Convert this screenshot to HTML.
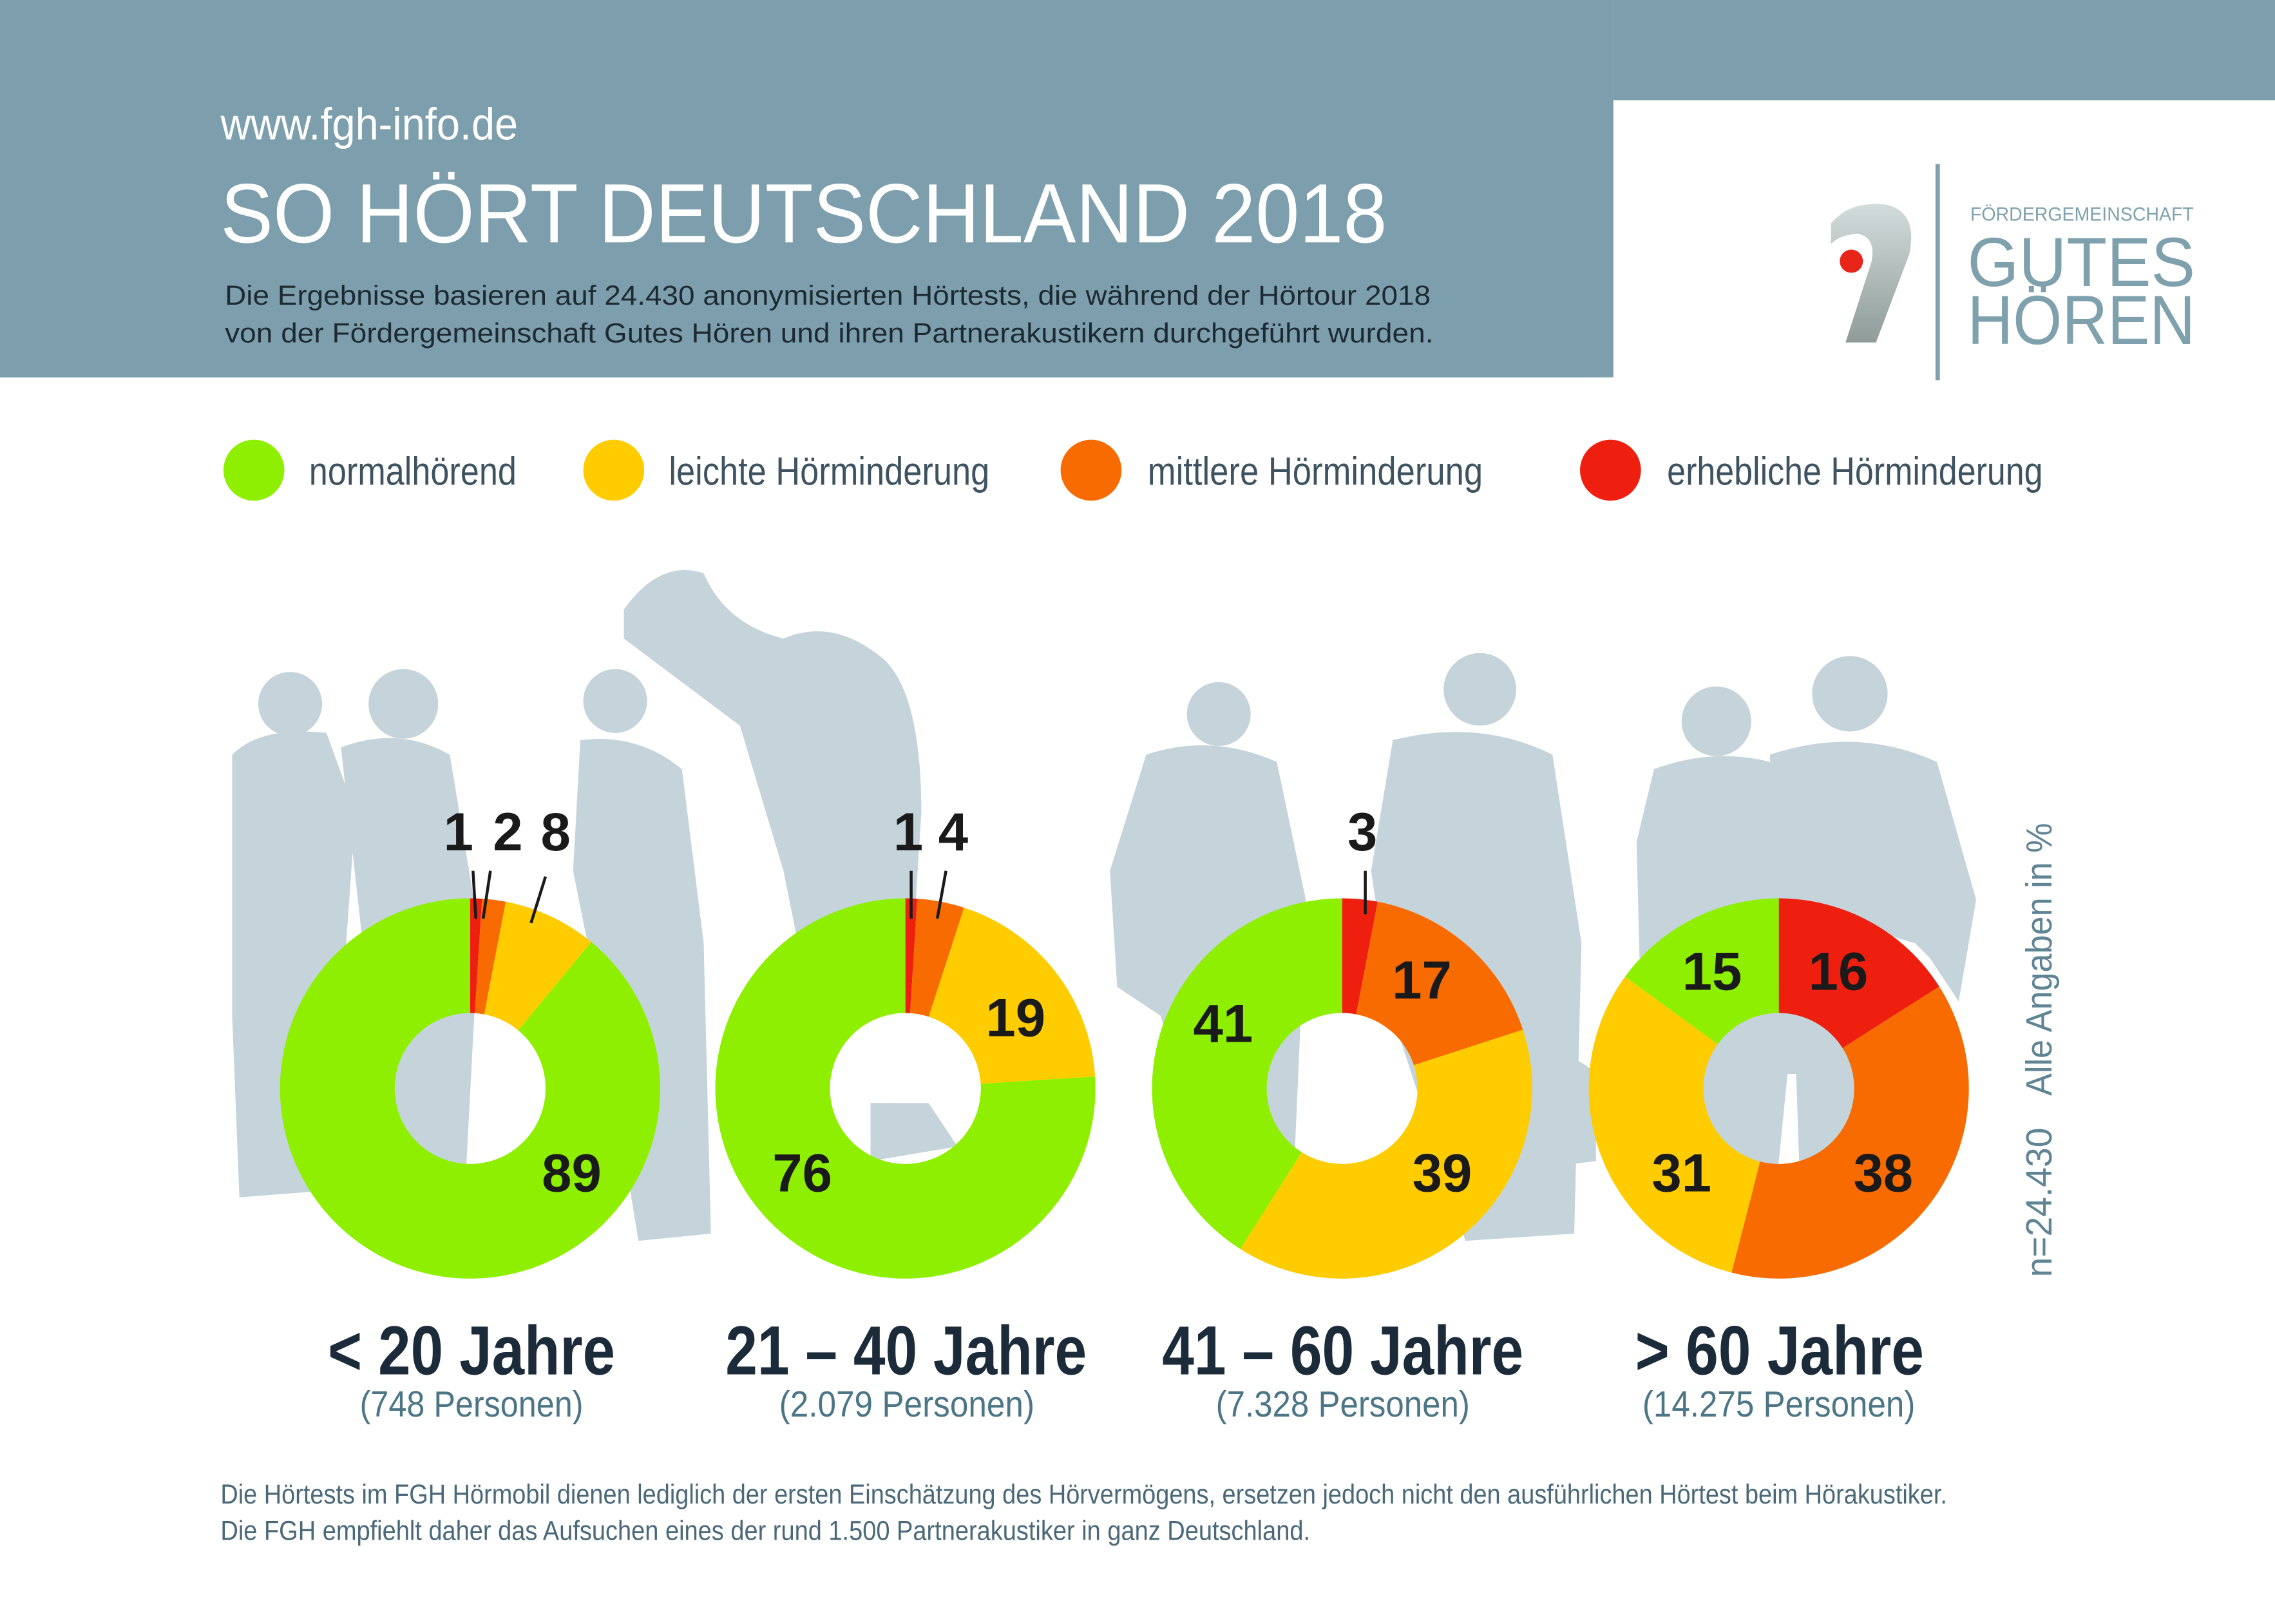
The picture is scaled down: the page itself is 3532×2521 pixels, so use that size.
<!DOCTYPE html>
<html><head><meta charset="utf-8"><style>
html,body{margin:0;padding:0;background:#fff;}
svg{display:block;}
text{font-family:"Liberation Sans",sans-serif;}
</style></head><body>
<svg id="s" width="3532" height="2521" viewBox="0 0 1568 1119" preserveAspectRatio="none" xmlns="http://www.w3.org/2000/svg">
<rect x="0" y="0" width="1568" height="1119" fill="#fff"/>
<rect x="0" y="0" width="1112" height="260" fill="#7d9fad"/>
<rect x="1112" y="0" width="456" height="69" fill="#7d9fad"/>
<text x="152" y="96" font-size="31" fill="#fff" textLength="205" lengthAdjust="spacingAndGlyphs">www.fgh-info.de</text>
<text x="152" y="167" font-size="58" fill="#fff" textLength="804" lengthAdjust="spacingAndGlyphs">SO HÖRT DEUTSCHLAND 2018</text>
<text x="155" y="210" font-size="19" fill="#1e2a33" textLength="831" lengthAdjust="spacingAndGlyphs">Die Ergebnisse basieren auf 24.430 anonymisierten Hörtests, die während der Hörtour 2018</text>
<text x="155" y="236" font-size="19" fill="#1e2a33" textLength="833" lengthAdjust="spacingAndGlyphs">von der Fördergemeinschaft Gutes Hören und ihren Partnerakustikern durchgeführt wurden.</text>
<defs><linearGradient id="lg" x1="0" y1="0" x2="0" y2="1"><stop offset="0" stop-color="#d3dcdc"/><stop offset="1" stop-color="#8f9c9a"/></linearGradient></defs>
<path d="M1262 154 Q1275 138 1300 141 Q1322 146 1316 175 L1293 236 L1272 236 L1290 180 Q1293 163 1280 161 Q1268 162 1262 168 Z" fill="url(#lg)"/>
<circle cx="1276" cy="180" r="8" fill="#e8251a"/>
<rect x="1334" y="113" width="3" height="149" fill="#7fa1ad"/>
<text x="1358" y="152" font-size="13" fill="#7fa1ad" textLength="154" lengthAdjust="spacingAndGlyphs">FÖRDERGEMEINSCHAFT</text>
<text x="1356" y="197" font-size="48" fill="#7fa1ad" textLength="157" lengthAdjust="spacingAndGlyphs">GUTES</text>
<text x="1356" y="237" font-size="48" fill="#7fa1ad" textLength="157" lengthAdjust="spacingAndGlyphs">HÖREN</text>
<circle cx="175" cy="324" r="21" fill="#8ef000"/>
<circle cx="423" cy="324" r="21" fill="#ffcc00"/>
<circle cx="752" cy="324" r="21" fill="#f76b00"/>
<circle cx="1110" cy="324" r="21" fill="#ee1f0f"/>
<g font-size="27" fill="#3e5260">
<text x="213" y="334" textLength="143" lengthAdjust="spacingAndGlyphs">normalhörend</text>
<text x="461" y="334" textLength="221" lengthAdjust="spacingAndGlyphs">leichte Hörminderung</text>
<text x="791" y="334" textLength="231" lengthAdjust="spacingAndGlyphs">mittlere Hörminderung</text>
<text x="1149" y="334" textLength="259" lengthAdjust="spacingAndGlyphs">erhebliche Hörminderung</text>
</g>
<g fill="#c4d4da">
<circle cx="200" cy="485" r="22"/><path d="M160 520 Q180 500 225 505 L245 560 L235 700 L230 820 L165 825 L160 700 Z"/>
<circle cx="278" cy="485" r="24"/><path d="M235 515 Q275 500 310 520 L330 640 L320 830 L270 830 Z"/>
<circle cx="424" cy="483" r="22"/><path d="M400 510 Q440 505 470 530 L485 650 L490 850 L440 855 L415 700 L395 600 Z"/>
<path d="M430 420 Q455 385 485 395 Q500 430 540 440 Q575 425 610 455 Q635 480 635 560 L630 640 L600 700 L560 700 L540 600 L510 500 Q470 470 430 440 Z"/>
<path d="M600 760 L640 760 L660 790 L600 800 Z"/>
<circle cx="840" cy="492" r="22"/><path d="M790 520 Q835 505 880 525 L900 620 L890 850 L840 850 L800 700 L770 680 L765 600 Z"/>
<circle cx="1020" cy="475" r="25"/><path d="M960 510 Q1020 495 1070 520 L1090 650 L1085 850 L1010 855 L960 700 L945 600 Z"/>
<path d="M1050 730 Q1080 720 1100 740 L1100 800 L1060 805 Z"/>
<circle cx="1183" cy="497" r="24"/><path d="M1140 530 Q1180 515 1220 525 L1225 650 L1130 660 L1128 580 Z"/>
<circle cx="1275" cy="478" r="26"/><path d="M1220 520 Q1280 500 1335 525 L1362 620 L1350 690 L1330 660 L1320 650 L1220 620 Z"/>
<path d="M1160 680 L1290 680 L1290 800 L1240 800 L1238 740 L1232 740 L1225 810 L1160 810 Z"/>
</g>
<g id="donuts"></g>
<g stroke="#1a1a1a" stroke-width="2">
<line x1="326" y1="600" x2="328" y2="633"/><line x1="338" y1="600" x2="333" y2="633"/><line x1="376" y1="604" x2="366" y2="636"/>
<line x1="628" y1="600" x2="628" y2="633"/><line x1="652" y1="600" x2="646" y2="633"/>
<line x1="941" y1="600" x2="941" y2="630"/>
</g>
<g font-size="37" font-weight="bold" fill="#1a1a1a" text-anchor="middle">
<text x="316" y="586">1</text><text x="350" y="586">2</text><text x="383" y="586">8</text>
<text x="394" y="821">89</text>
<text x="626" y="586">1</text><text x="657" y="586">4</text>
<text x="700" y="714">19</text><text x="553" y="821">76</text>
<text x="939" y="586">3</text>
<text x="980" y="688">17</text><text x="843" y="718">41</text><text x="994" y="821">39</text>
<text x="1180" y="682">15</text><text x="1267" y="682">16</text><text x="1159" y="821">31</text><text x="1298" y="821">38</text>
</g>
<g font-size="48" font-weight="bold" fill="#1b2b3a">
<text x="226" y="947" textLength="198" lengthAdjust="spacingAndGlyphs">&lt; 20 Jahre</text>
<text x="500" y="947" textLength="249" lengthAdjust="spacingAndGlyphs">21 – 40 Jahre</text>
<text x="801" y="947" textLength="249" lengthAdjust="spacingAndGlyphs">41 – 60 Jahre</text>
<text x="1127" y="947" textLength="199" lengthAdjust="spacingAndGlyphs">&gt; 60 Jahre</text>
</g>
<g font-size="25" fill="#4c7585">
<text x="248" y="976" textLength="154" lengthAdjust="spacingAndGlyphs">(748 Personen)</text>
<text x="537" y="976" textLength="176" lengthAdjust="spacingAndGlyphs">(2.079 Personen)</text>
<text x="838" y="976" textLength="175" lengthAdjust="spacingAndGlyphs">(7.328 Personen)</text>
<text x="1132" y="976" textLength="188" lengthAdjust="spacingAndGlyphs">(14.275 Personen)</text>
</g>
<g transform="translate(1414,880) rotate(-90)" font-size="25" fill="#5f8494">
<text x="0" y="0" textLength="103" lengthAdjust="spacingAndGlyphs">n=24.430</text>
<text x="125" y="0" textLength="188" lengthAdjust="spacingAndGlyphs">Alle Angaben in %</text>
</g>
<g font-size="19" fill="#4a6878">
<text x="152" y="1036" textLength="1190" lengthAdjust="spacingAndGlyphs">Die Hörtests im FGH Hörmobil dienen lediglich der ersten Einschätzung des Hörvermögens, ersetzen jedoch nicht den ausführlichen Hörtest beim Hörakustiker.</text>
<text x="152" y="1061" textLength="751" lengthAdjust="spacingAndGlyphs">Die FGH empfiehlt daher das Aufsuchen eines der rund 1.500 Partnerakustiker in ganz Deutschland.</text>
</g>
</svg>
<script>
var C=["#ee1f0f","#f76b00","#ffcc00","#8ef000"];
var D=[[324,[1,2,8,89]],[624,[1,4,19,76]],[925,[3,17,39,41]],[1226,[16,38,31,15]]];
var g=document.getElementById("donuts"),cy=750,R=131,r=52,h="";
function p(cx,a,rad){var t=(a*3.6-90)*Math.PI/180;return (cx+rad*Math.cos(t)).toFixed(2)+" "+(cy+rad*Math.sin(t)).toFixed(2);}
D.forEach(function(d){var cx=d[0],s=0;d[1].forEach(function(v,i){var e=s+v,l=v>50?1:0;
h+='<path fill="'+C[i]+'" d="M'+p(cx,s,R)+' A'+R+' '+R+' 0 '+l+' 1 '+p(cx,e,R)+' L'+p(cx,e,r)+' A'+r+' '+r+' 0 '+l+' 0 '+p(cx,s,r)+' Z"/>';s=e;});});
g.innerHTML=h;
</script>
</body></html>
